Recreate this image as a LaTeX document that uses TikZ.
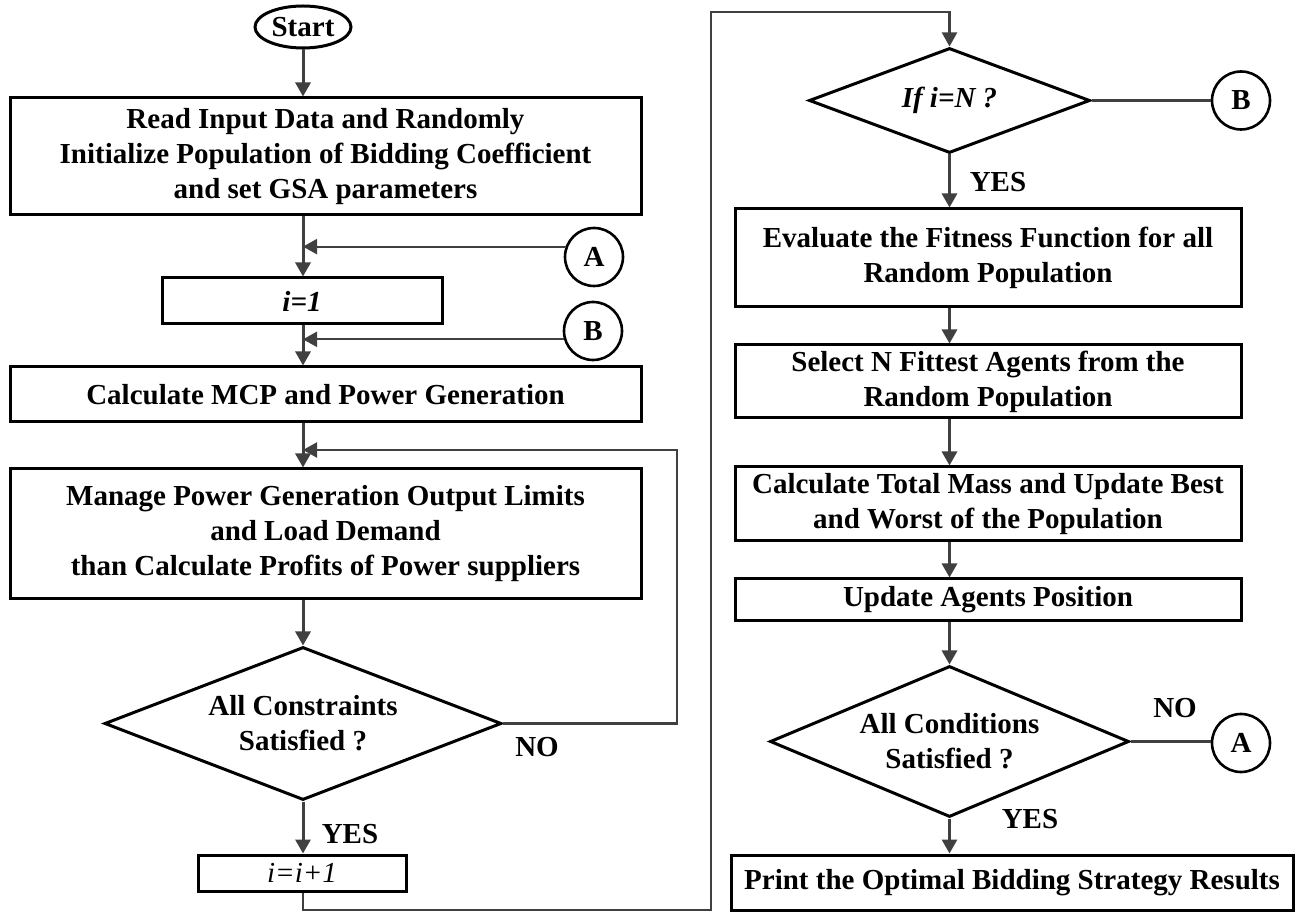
\documentclass[tikz,border=0pt]{standalone}
\usepackage{fontspec}
\setmainfont{Liberation Serif}
\usetikzlibrary{shapes.geometric,arrows.meta}
\definecolor{conn}{HTML}{404040}
\begin{document}
\begin{tikzpicture}[x=0.5pt,y=-0.5pt,
  every node/.style={font=\fontsize{14.5}{17.5}\selectfont\bfseries},
  pbox/.style={draw=black,line width=1.5pt,rectangle,inner sep=0pt,align=center,fill=white},
  term/.style={draw=black,line width=1.5pt,ellipse,inner sep=0pt,minimum width=48pt,minimum height=21pt},
  dec/.style={draw=black,line width=1.5pt,diamond,inner sep=0pt,align=center},
  conncirc/.style={draw=black,line width=1.3pt,circle,inner sep=0pt,minimum size=29pt},
  arr/.style={draw=conn,line width=1.5pt,-{Triangle[length=7pt,width=7.5pt]}},
  thin/.style={draw=conn,line width=1.1pt},
  thinarr/.style={draw=conn,line width=1.1pt,-{Triangle[length=7pt,width=7.5pt]}},
  lbl/.style={inner sep=0pt}
]
\useasboundingbox[fill=white] (0,0) rectangle (1295,913);

% left column
\node[term] (start) at (303,27) {Start};
\node[pbox,minimum width=315.5pt,minimum height=58.5pt] (b1) at (325.5,156.5)
  {Read Input Data and Randomly\\Initialize Population of Bidding Coefficient\\and set GSA parameters};
\node[conncirc] (A1) at (594,257) {A};
\node[pbox,minimum width=140pt,minimum height=23pt,font=\fontsize{14.5}{17.5}\selectfont\bfseries\itshape] (i1) at (302,301) {i=1};
\node[conncirc] (B1) at (593,331) {B};
\node[pbox,minimum width=315.5pt,minimum height=27.5pt] (mcp) at (325.5,394.5) {Calculate MCP and Power Generation};
\node[pbox,minimum width=315.5pt,minimum height=65pt] (manage) at (325.5,534)
  {Manage Power Generation Output Limits\\and Load Demand\\than Calculate Profits of Power suppliers};
\node[dec,aspect=2.6,minimum width=198.5pt,minimum height=76.5pt] (d1) at (303,723.5) {All Constraints\\Satisfied ?};
\node[pbox,minimum width=104pt,minimum height=18pt,font=\fontsize{14.5}{17.5}\selectfont\itshape] (ii) at (302,873) {i=i+1};
\node[lbl] (no1) at (537,747) {NO};
\node[lbl] (yes1) at (350,834) {YES};

% right column
\node[dec,aspect=2.68,minimum width=140.5pt,minimum height=52.5pt,font=\fontsize{14.5}{17.5}\selectfont\bfseries\itshape] (d2) at (949.5,100.5) {If i=N ?};
\node[conncirc] (B2) at (1241,100.5) {B};
\node[lbl] (yes2) at (998,182) {YES};
\node[pbox,minimum width=253pt,minimum height=49pt] (eval) at (988,258)
  {Evaluate the Fitness Function for all\\Random Population};
\node[pbox,minimum width=253pt,minimum height=36.5pt] (select) at (988,381.5)
  {Select N Fittest Agents from the\\Random Population};
\node[pbox,minimum width=253pt,minimum height=37pt] (calc) at (988,504)
  {Calculate Total Mass and Update Best\\and Worst of the Population};
\node[pbox,minimum width=253pt,minimum height=21pt] (update) at (988,600) {Update Agents Position};
\node[dec,aspect=2.38,minimum width=179.5pt,minimum height=75.5pt] (d3) at (949.5,741.5) {All Conditions\\Satisfied ?};
\node[conncirc] (A2) at (1241,743) {A};
\node[lbl] (no2) at (1175,708) {NO};
\node[lbl] (yes3) at (1030,819) {YES};
\node[pbox,minimum width=281pt,minimum height=27.5pt] (print) at (1012,882.5)
  {Print the Optimal Bidding Strategy Results};

% helper coordinates
\coordinate (loopc) at (677,450);
\coordinate (c1) at (303,910);
\coordinate (c2) at (711,910);
\coordinate (c3) at (711,12);

% left connectors
\draw[arr] (start.south) -- (start.south |- b1.north);
\draw[arr] (start.south |- b1.south) -- (start.south |- i1.north);
\draw[thinarr] (A1.160) -- (A1.160 -| start.south);
\draw[arr] (start.south |- i1.south) -- (start.south |- mcp.north);
\draw[thinarr] (B1.196) -- (B1.196 -| start.south);
\draw[arr] (start.south |- mcp.south) -- (start.south |- manage.north);
\draw[thinarr] (d1.east) -| (loopc) -- (loopc -| start.south);
\draw[arr] (start.south |- manage.south) -- (d1.north);
\draw[arr] (d1.south) -- (d1.south |- ii.north);
\draw[thinarr] (d1.south |- ii.south) -- (c1) -- (c2) -- (c3) -| (d2.north);

% right connectors
\draw[thin] (d2.east) -- (d2.east -| B2.west);
\draw[arr] (d2.south) -- (d2.south |- eval.north);
\draw[arr] (d2.south |- eval.south) -- (d2.south |- select.north);
\draw[arr] (d2.south |- select.south) -- (d2.south |- calc.north);
\draw[arr] (d2.south |- calc.south) -- (d2.south |- update.north);
\draw[arr] (d2.south |- update.south) -- (d3.north);
\draw[thin] (d3.east) -- (d3.east -| A2.west);
\draw[arr] (d3.south) -- (d3.south |- print.north);
\end{tikzpicture}
\end{document}
